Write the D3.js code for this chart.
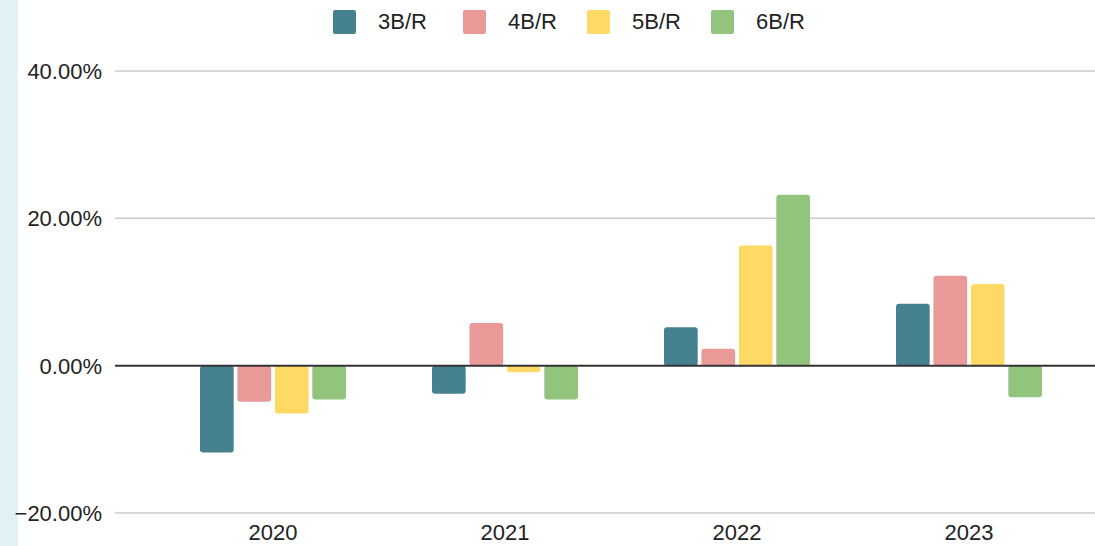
<!DOCTYPE html>
<html>
<head>
<meta charset="utf-8">
<script src="https://cdn.jsdelivr.net/npm/d3@7"></script>
<style>
  body { margin: 0; background: #fff; }
  svg { display: block; font-family: "Liberation Sans", Arial, sans-serif; }
</style>
</head>
<body>
<svg id="chart" width="1095" height="546"></svg>
<script>
// ----- data -----
var years = ['2020', '2021', '2022', '2023'];
var seriesNames = ['3B/R', '4B/R', '5B/R', '6B/R'];
var seriesColors = ['#45818e', '#ea9999', '#ffd966', '#93c47d'];
var values3 = [-11.8, -3.8, 5.2, 8.4];
var values4 = [-4.9, 5.8, 2.3, 12.2];
var values5 = [-6.5, -0.9, 16.3, 11.1];
var values6 = [-4.6, -4.6, 23.2, -4.3];
var yTicks = [-20, 0, 20, 40];

var seriesValues = [values3, values4, values5, values6];

var svg = d3.select('#chart');

// light strip on the left edge
svg.append('rect')
   .attr('x', 0).attr('y', 0)
   .attr('width', 18).attr('height', 546)
   .attr('fill', '#e1f1f6');

var y = d3.scaleLinear().domain([-20, 40]).range([513, 71]);

var x0 = d3.scaleBand().domain(years).range([157, 1085]).padding(0);
var groupWidth = 146;
var x1 = d3.scaleBand().domain(seriesNames).range([0, groupWidth]).paddingInner(0.1);
var groupOffset = (x0.bandwidth() - groupWidth) / 2;

// gridlines
svg.append('g').selectAll('line.grid')
   .data(yTicks.filter(function(d) { return d !== 0; }))
   .enter().append('line')
   .attr('class', 'grid')
   .attr('x1', 115).attr('x2', 1095)
   .attr('y1', function(d) { return y(d); })
   .attr('y2', function(d) { return y(d); })
   .attr('stroke', '#cccccc')
   .attr('stroke-width', 1.5);

// y labels
svg.append('g').selectAll('text.ylab')
   .data(yTicks)
   .enter().append('text')
   .attr('class', 'ylab')
   .attr('x', 102)
   .attr('y', function(d) { return y(d) + 8; })
   .attr('text-anchor', 'end')
   .attr('font-size', 22)
   .attr('fill', '#222')
   .text(function(d) { return d3.format('.2f')(d) + '%'; });

// bars
var rows = [];
years.forEach(function(yr, i) {
  seriesNames.forEach(function(s, j) {
    rows.push({year: yr, series: s, value: seriesValues[j][i], color: seriesColors[j]});
  });
});

svg.append('g').selectAll('rect.bar')
   .data(rows)
   .enter().append('rect')
   .attr('class', 'bar')
   .attr('x', function(d) { return x0(d.year) + groupOffset + x1(d.series); })
   .attr('y', function(d) { return Math.min(y(d.value), y(0)); })
   .attr('width', x1.bandwidth())
   .attr('height', function(d) { return Math.abs(y(d.value) - y(0)); })
   .attr('rx', 3)
   .attr('fill', function(d) { return d.color; });

// zero line
svg.append('line')
   .attr('x1', 115).attr('x2', 1095)
   .attr('y1', y(0)).attr('y2', y(0))
   .attr('stroke', '#333333')
   .attr('stroke-width', 2);

// x labels
svg.append('g').selectAll('text.xlab')
   .data(years)
   .enter().append('text')
   .attr('class', 'xlab')
   .attr('x', function(d) { return x0(d) + x0.bandwidth() / 2; })
   .attr('y', 540)
   .attr('text-anchor', 'middle')
   .attr('font-size', 22)
   .attr('fill', '#222')
   .text(function(d) { return d; });

// legend
var legendX = [333, 463, 587, 711];
var legend = svg.append('g').selectAll('g.legend')
   .data(seriesNames)
   .enter().append('g')
   .attr('class', 'legend')
   .attr('transform', function(d, i) { return 'translate(' + legendX[i] + ',0)'; });

legend.append('rect')
   .attr('x', 0).attr('y', 10)
   .attr('width', 23).attr('height', 24)
   .attr('rx', 2)
   .attr('fill', function(d, i) { return seriesColors[i]; });

legend.append('text')
   .attr('x', 45).attr('y', 29)
   .attr('font-size', 22)
   .attr('fill', '#222')
   .text(function(d) { return d; });
</script>
</body>
</html>
